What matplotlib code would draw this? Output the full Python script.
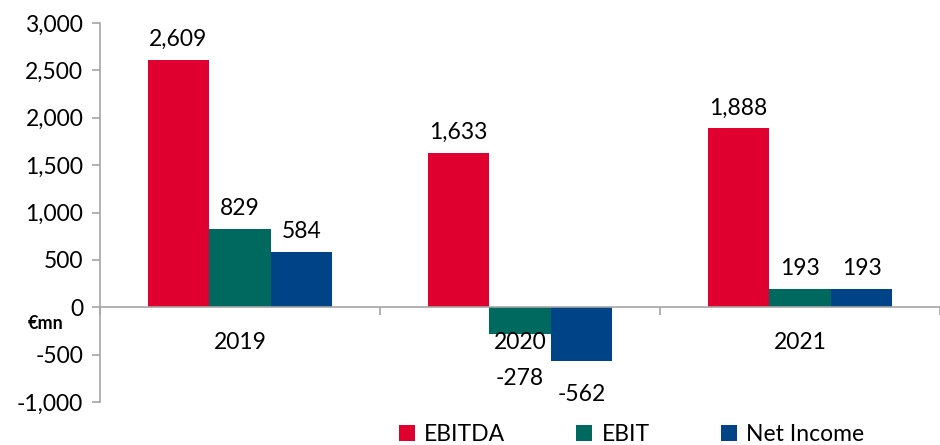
import numpy as np
import matplotlib.pyplot as plt

# dados do gráfico
years = ["2019", "2020", "2021"]
ebitda = [2609, 1633, 1888]
ebit = [829, -278, 193]
net_income = [584, -562, 193]
series_names = ["EBITDA", "EBIT", "Net Income"]
colors = ["#DF0030", "#00695F", "#004386"]

plt.rcParams['font.family'] = ['Lato', 'DejaVu Sans']
fs = 16.5

fig = plt.figure(figsize=(9.4, 4.45), dpi=100)
ax = fig.add_axes([0.1064, 0.0966, 0.8936, 0.8517])

x = np.arange(len(years))
w = 0.22
series = [ebitda, ebit, net_income]
for i, (vals, name, c) in enumerate(zip(series, series_names, colors)):
    pos = x + (i - 1) * w
    ax.bar(pos, vals, width=w, color=c, label=name)
    for xp, v in zip(pos, vals):
        if v >= 0:
            ax.annotate(f"{v:,}", (xp, v), xytext=(0, 7), textcoords="offset points",
                        ha="center", va="bottom", fontsize=fs)
        else:
            off = -25 if v > -400 else -17
            ax.annotate(f"{v:,}", (xp, v), xytext=(0, off), textcoords="offset points",
                        ha="center", va="top", fontsize=fs)

ax.set_xlim(-0.5, 2.5)
ax.set_ylim(-1000, 3000)
ax.set_yticks(np.arange(-1000, 3001, 500))
ax.set_yticklabels([f"{t:,}" for t in range(-1000, 3001, 500)], fontsize=fs)

ax.spines['bottom'].set_position(('data', 0))
ax.spines['top'].set_visible(False)
ax.spines['right'].set_visible(False)
for s in ['left', 'bottom']:
    ax.spines[s].set_color('#A6A6A6')
    ax.spines[s].set_linewidth(1.2)

ax.set_xticks(x)
ax.set_xticklabels(years, fontsize=fs)
ax.set_xticks([-0.5, 0.5, 1.5, 2.5], minor=True)
ax.tick_params(axis='x', which='major', length=0, pad=18)
ax.tick_params(axis='x', which='minor', length=6, color='#A6A6A6', width=1.2)
ax.tick_params(axis='y', length=6, color='#A6A6A6', width=1.2, pad=6)

ax.text(-0.086, 0.208, "€mn", transform=ax.transAxes, fontsize=13, fontweight='bold',
        ha='left', va='center')

ax.legend(loc='upper left', bbox_to_anchor=(0.345, -0.035), ncol=3, frameon=False,
          fontsize=fs, handlelength=0.7, handleheight=0.7, handletextpad=0.4,
          columnspacing=3.1, borderaxespad=0)

fig.savefig("out.png", dpi=100)
